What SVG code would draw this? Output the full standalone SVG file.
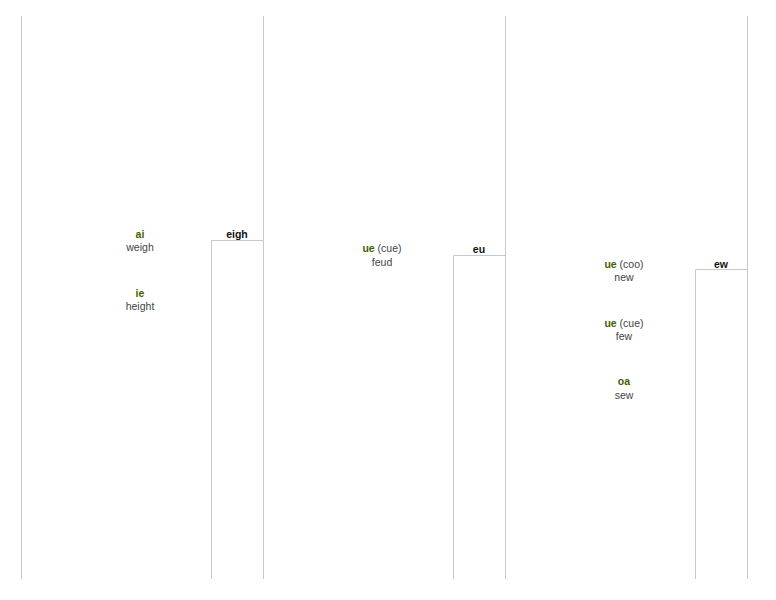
<svg xmlns="http://www.w3.org/2000/svg" width="776" height="600" viewBox="0 0 776 600">
<style>
.ln{stroke:#c8c8c8;stroke-width:1;fill:none}
text{font-family:"Liberation Sans",Arial,sans-serif;font-size:10.5px;text-anchor:middle;fill:#444}
.g{font-weight:bold;fill:#3f6000}
.h{font-weight:bold;fill:#111}
</style>
<rect width="776" height="600" fill="#fff"/>
<g id="connectors">
<line class="ln" x1="21.5" y1="16" x2="21.5" y2="579"/>
<line class="ln" x1="263.5" y1="16" x2="263.5" y2="579"/>
<line class="ln" x1="505.5" y1="16" x2="505.5" y2="579"/>
<line class="ln" x1="747.5" y1="16" x2="747.5" y2="579"/>
<polyline class="ln" points="211.5,579 211.5,240.5 263.5,240.5"/>
<polyline class="ln" points="453.5,579 453.5,255.5 505.5,255.5"/>
<polyline class="ln" points="695.5,579 695.5,269.5 747.5,269.5"/>
</g>
<g id="eigh"><text class="h" x="237" y="238">eigh</text></g>
<g id="eu"><text class="h" x="479" y="253">eu</text></g>
<g id="ew"><text class="h" x="721" y="268">ew</text></g>
<g id="ai"><text x="140" y="238" class="g">ai</text><text x="140" y="251">weigh</text></g>
<g id="ie"><text x="140" y="297" class="g">ie</text><text x="140" y="310">height</text></g>
<g id="ue-feud"><text x="382" y="252"><tspan class="g">ue</tspan> (cue)</text><text x="382" y="266">feud</text></g>
<g id="ue-new"><text x="624" y="268"><tspan class="g">ue</tspan> (coo)</text><text x="624" y="281">new</text></g>
<g id="ue-few"><text x="624" y="327"><tspan class="g">ue</tspan> (cue)</text><text x="624" y="340">few</text></g>
<g id="oa"><text x="624" y="385" class="g">oa</text><text x="624" y="399">sew</text></g>
</svg>
